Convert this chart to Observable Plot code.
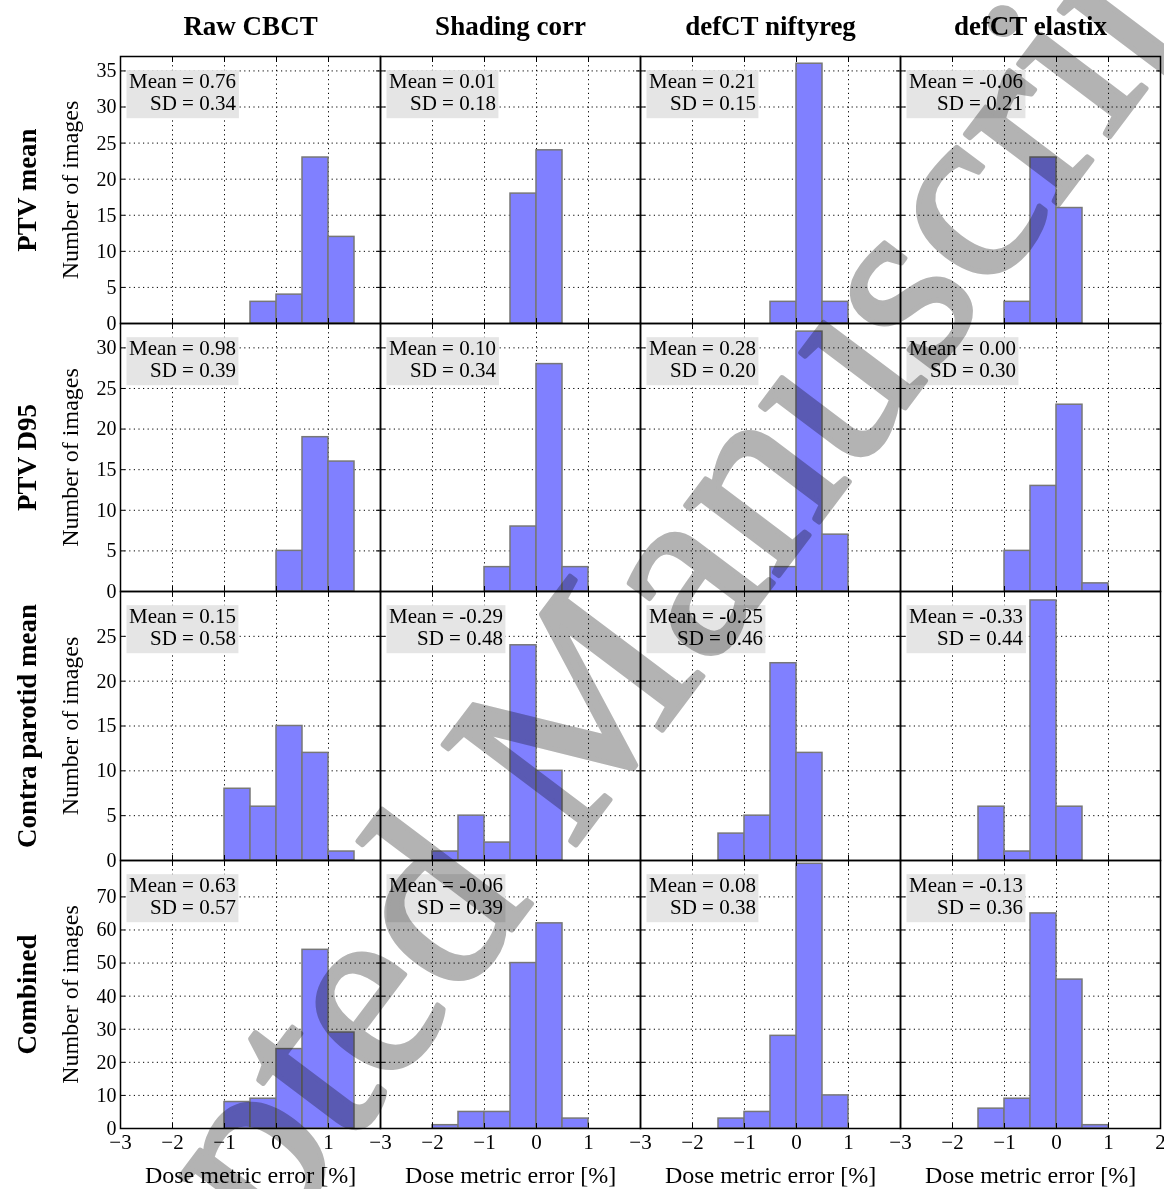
<!DOCTYPE html>
<html>
<head>
<meta charset="utf-8">
<script src="https://cdn.jsdelivr.net/npm/d3@7"></script>
<script src="https://cdn.jsdelivr.net/npm/@observablehq/plot@0.6"></script>
<style>
html, body { margin: 0; padding: 0; background: #fff; }
#chart { position: relative; width: 1164px; height: 1189px; overflow: hidden; background: #fff;
  font-family: "Liberation Serif", "Times New Roman", serif; }
#chart svg { display: block; overflow: visible; background: transparent; }
#chart svg.watermark { position: absolute; left: 0; top: 0; pointer-events: none; mix-blend-mode: multiply; overflow: hidden; }
</style>
</head>
<body>
<div id="chart"></div>
<script>
// ---------- data ----------
const columns = ["Raw CBCT", "Shading corr", "defCT niftyreg", "defCT elastix"];
const rowLabels = ["PTV mean", "PTV D95", "Contra parotid mean", "Combined"];
const binStarts = [-2, -1.5, -1, -0.5, 0, 0.5, 1];
const binWidth = 0.5;
const xTicks = [-3, -2, -1, 0, 1, 2];

// counts per column (Raw CBCT, Shading corr, defCT niftyreg, defCT elastix), one value per bin
const countsPTVmean = [
  [0, 0, 0, 3, 4, 23, 12],
  [0, 0, 0, 18, 24, 0, 0],
  [0, 0, 0, 3, 36, 3, 0],
  [0, 0, 3, 23, 16, 0, 0]
];
const countsPTVD95 = [
  [0, 0, 0, 0, 5, 19, 16],
  [0, 0, 3, 8, 28, 3, 0],
  [0, 0, 0, 3, 32, 7, 0],
  [0, 0, 5, 13, 23, 1, 0]
];
const countsParotid = [
  [0, 0, 8, 6, 15, 12, 1],
  [1, 5, 2, 24, 10, 0, 0],
  [0, 3, 5, 22, 12, 0, 0],
  [0, 6, 1, 29, 6, 0, 0]
];
const countsCombined = [
  [0, 0, 8, 9, 24, 54, 29],
  [1, 5, 5, 50, 62, 3, 0],
  [0, 3, 5, 28, 80, 10, 0],
  [0, 6, 9, 65, 45, 1, 0]
];

const meanPTVmean = ["0.76", "0.01", "0.21", "-0.06"];
const sdPTVmean   = ["0.34", "0.18", "0.15", "0.21"];
const meanPTVD95  = ["0.98", "0.10", "0.28", "0.00"];
const sdPTVD95    = ["0.39", "0.34", "0.20", "0.30"];
const meanParotid = ["0.15", "-0.29", "-0.25", "-0.33"];
const sdParotid   = ["0.58", "0.48", "0.46", "0.44"];
const meanCombined = ["0.63", "-0.06", "0.08", "-0.13"];
const sdCombined   = ["0.57", "0.39", "0.38", "0.36"];

const yTicksPTVmean = [0, 5, 10, 15, 20, 25, 30, 35];
const yTicksPTVD95 = [0, 5, 10, 15, 20, 25, 30];
const yTicksParotid = [0, 5, 10, 15, 20, 25];
const yTicksCombined = [0, 10, 20, 30, 40, 50, 60, 70];
const yLimits = [37, 33, 30, 81];

const watermarkText = "Accepted Manuscript";

// ---------- assembly ----------
const counts = [countsPTVmean, countsPTVD95, countsParotid, countsCombined];
const means = [meanPTVmean, meanPTVD95, meanParotid, meanCombined];
const sds = [sdPTVmean, sdPTVD95, sdParotid, sdCombined];
const yTicks = [yTicksPTVmean, yTicksPTVD95, yTicksParotid, yTicksCombined];

const FONT = "'Liberation Serif', 'Times New Roman', Times, serif";
const fmtTick = v => (v < 0 ? "\u2212" + (-v) : String(v));
const dotted = {stroke: "#000", strokeOpacity: 1, strokeWidth: 1, strokeDasharray: "1.2,3.4"};

const panelW = 260;
const innerH = [267, 268, 269, 268];

function rowPlot(r) {
  const top = r === 0, bottom = r === rowLabels.length - 1;
  const bars = [];
  counts[r].forEach((arr, c) => arr.forEach((n, b) => {
    if (n > 0) bars.push({col: columns[c], x1: binStarts[b], x2: binStarts[b] + binWidth, n});
  }));
  const colData = columns.map((col, c) => ({col, mean: means[r][c], sd: sds[r][c]}));
  const first = [{col: columns[0]}];
  const xLabelData = columns.flatMap((col, c) =>
    xTicks.filter(v => v < 2 || c === columns.length - 1).map(v => ({col, v})));

  const marks = [
    Plot.gridX({ticks: xTicks, ...dotted}),
    Plot.gridY({ticks: yTicks[r], ...dotted}),
    Plot.rectY(bars, {fx: "col", x1: "x1", x2: "x2", y1: 0, y2: "n",
      fill: "#8080ff", stroke: "#777", strokeWidth: 1.5}),
    Plot.axisX({ticks: xTicks, anchor: "bottom", tickSize: -5, tickFormat: () => "", label: null, facetAnchor: null}),
    Plot.axisX({ticks: xTicks, anchor: "top", tickSize: -5, tickFormat: () => "", label: null, facetAnchor: null}),
    Plot.axisY({ticks: yTicks[r], anchor: "left", tickSize: -5, tickFormat: () => "", label: null, facetAnchor: null}),
    Plot.axisY({ticks: yTicks[r], anchor: "right", tickSize: -5, tickFormat: () => "", label: null, facetAnchor: null}),
    Plot.axisY({ticks: yTicks[r], anchor: "left", tickSize: 0, tickPadding: 4, label: null, fontSize: 20}),
    Plot.frame({stroke: "#000", strokeWidth: 1.5}),
    Plot.text(colData, {fx: "col", text: d => `Mean = ${d.mean}\nSD = ${d.sd}`,
      frameAnchor: "top-left", dx: 8.5, dy: 16, lineAnchor: "top", textAnchor: "start",
      fontSize: 21, lineHeight: 1.05}),
    Plot.text(first, {fx: "col", text: () => "Number of images", frameAnchor: "left",
      textAnchor: "middle", lineAnchor: "middle", dx: -50, rotate: -90, fontSize: 24}),
    Plot.text(first, {fx: "col", text: () => rowLabels[r], frameAnchor: "left",
      textAnchor: "middle", lineAnchor: "middle", dx: -93, rotate: -90, fontSize: 27, fontWeight: "bold"})
  ];
  if (top) {
    marks.push(Plot.text(colData, {fx: "col", text: "col", frameAnchor: "top", lineAnchor: "middle",
      dy: -30, fontSize: 27, fontWeight: "bold"}));
  }
  if (bottom) {
    marks.push(Plot.text(xLabelData, {fx: "col", x: "v", text: d => fmtTick(d.v),
      frameAnchor: "bottom", dy: 6, lineAnchor: "top", fontSize: 21}));
    marks.push(Plot.text(colData, {fx: "col", text: () => "Dose metric error [%]",
      frameAnchor: "bottom", lineAnchor: "middle", dy: 47, fontSize: 24}));
  }
  const mt = top ? 56 : 0, mb = bottom ? 61 : 0;
  return Plot.plot({
    width: 120 + columns.length * panelW + 4,
    height: mt + innerH[r] + mb,
    marginLeft: 120, marginRight: 4, marginTop: mt, marginBottom: mb,
    style: {fontFamily: FONT, fontSize: "20px", color: "#000", background: "transparent", overflow: "visible"},
    fx: {domain: columns, padding: 0, axis: null},
    x: {domain: [-3, 2], axis: null},
    y: {domain: [0, yLimits[r]], axis: null},
    marks
  });
}

const chart = document.getElementById("chart");
for (let r = 0; r < rowLabels.length; ++r) {
  const p = rowPlot(r);
  chart.append(p);
  // right-align the lines of each stats label and put a light grey box behind it
  Array.from(p.querySelectorAll("text"))
    .filter(t => t.querySelectorAll("tspan").length > 1 && t.textContent.startsWith("Mean"))
    .forEach(t => {
      const spans = Array.from(t.querySelectorAll("tspan"));
      const w = spans.map(s => s.getComputedTextLength());
      const m = Math.max(...w);
      spans.forEach((s, i) => s.setAttribute("x", m - w[i]));
      const bb = t.getBBox();
      const rect = document.createElementNS("http://www.w3.org/2000/svg", "rect");
      rect.setAttribute("x", bb.x - 2.5);
      rect.setAttribute("y", bb.y + 1);
      rect.setAttribute("width", bb.width + 5);
      rect.setAttribute("height", bb.height + 2);
      rect.setAttribute("fill", "#e5e5e5");
      if (t.getAttribute("transform")) rect.setAttribute("transform", t.getAttribute("transform"));
      t.parentNode.insertBefore(rect, t);
    });
}

// page watermark overlaid on the figure (grey, multiplied)
const wm = d3.create("svg").attr("class", "watermark").attr("width", 1164).attr("height", 1189);
wm.append("text")
  .attr("transform", "translate(612,797) rotate(-53)")
  .attr("text-anchor", "middle")
  .attr("font-family", FONT)
  .attr("font-size", 254)
  .attr("fill", "rgb(179,179,179)")
  .attr("stroke", "rgb(179,179,179)")
  .attr("stroke-width", 5)
  .attr("stroke-linejoin", "round")
  .text(watermarkText);
chart.append(wm.node());
</script>
</body>
</html>
